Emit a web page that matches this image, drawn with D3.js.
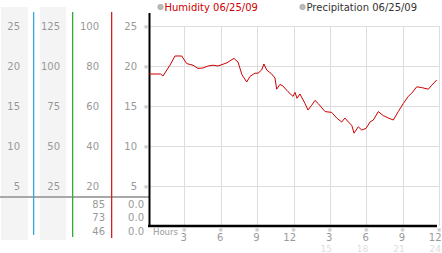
<!DOCTYPE html>
<html><head><meta charset="utf-8">
<script src="https://cdn.jsdelivr.net/npm/d3@7"></script>
<style>
html,body{margin:0;padding:0;background:#fff;}
svg{display:block;font-family:"DejaVu Sans",Verdana,sans-serif;}
</style></head>
<body><svg id="c" width="442" height="253"></svg>
<script>
// ---- data ----
const hours = [0,0.96,1.15,1.73,2.14,2.70,3.11,3.63,4.04,4.45,4.87,5.28,5.69,6.43,7.01,7.34,7.67,8.06,8.33,8.74,8.99,9.29,9.48,9.71,10.12,10.39,10.53,10.80,11.05,11.46,11.88,12.04,12.21,12.45,12.87,13.11,13.42,13.69,13.96,14.52,15.07,15.48,15.89,16.16,16.44,16.72,16.91,17.26,17.54,17.90,18.23,18.50,18.91,19.32,19.74,20.15,20.56,20.97,21.38,21.67,22.08,22.49,23.04,23.32,23.73];
const humidity = [19.0,19.0,18.75,20.1,21.25,21.25,20.3,20.1,19.7,19.75,20.0,20.1,20.0,20.4,20.95,20.5,18.9,18.0,18.7,19.1,19.1,19.5,20.25,19.5,19.0,18.5,17.1,17.7,17.5,16.8,16.2,16.7,15.96,16.5,15.3,14.5,15.1,15.7,15.3,14.3,14.2,13.5,13.0,13.5,13.0,12.6,11.6,12.4,12.0,12.2,13.0,13.25,14.3,13.8,13.5,13.25,14.3,15.3,16.2,16.6,17.4,17.3,17.1,17.6,18.25];
const yTicks = [25,20,15,10,5];
const col1Labels = ["25","20","15","10","5"];
const col2Labels = ["125","100","75","50","25"];
const col3Labels = ["100","80","60","40","20"];
const col4Labels = ["25","20","15","10","5"];
const col3Bottom = ["85","73","46"];
const col4Bottom = ["0.0","0.0","0.0"];
const xTicks = [3,6,9,12,15,18,21,24];
const xLabels = ["3","6","9","12","3","6","9","12"];
const xTicks2 = [15,18,21,24];
const xLabels2 = ["15","18","21","24"];
const legend = [{name:"Humidity 06/25/09", color:"#cc0000"},{name:"Precipitation 06/25/09", color:"#333333"}];

// ---- scales ----
const x = d3.scaleLinear().domain([0,24]).range([149,440]);
const y = d3.scaleLinear().domain([0,25]).range([226,26]);
const svg = d3.select("#c");

// left panel backgrounds
svg.append("rect").attr("x",1).attr("y",7).attr("width",27).attr("height",233).attr("fill","#f4f4f4");
svg.append("rect").attr("x",40).attr("y",7).attr("width",26).attr("height",233).attr("fill","#f4f4f4");

// grey divider
svg.append("line").attr("x1",0).attr("x2",149).attr("y1",197).attr("y2",197).attr("stroke","#a8a8a8").attr("stroke-width",2);

// colored vertical lines
[[33,"#33aadd",235],[72,"#33aa33",237],[111,"#cc2222",238]].forEach(([lx,c,e])=>{
  svg.append("rect").attr("x",lx).attr("y",12).attr("width",1.3).attr("height",e-12).attr("fill",c);
});

const grey="#999";
function colLabels(labels, xe){
  svg.append("g").selectAll("text").data(labels).join("text")
    .attr("x",xe).attr("y",(d,i)=>y(yTicks[i])+3.5)
    .attr("text-anchor","end").attr("font-size",10).attr("fill",grey).text(d=>d);
}
colLabels(col1Labels,20);
colLabels(col2Labels,60);
colLabels(col3Labels,99);
colLabels(col4Labels,137);
// small marks next to plot axis labels
svg.append("g").selectAll("text").data(yTicks).join("text")
  .attr("x",146).attr("y",d=>y(d)+2.5).attr("text-anchor","middle").attr("font-size",6).attr("fill","#aaa").text("※");

// bottom rows
const rowY=[208,221,235];
svg.append("g").selectAll("text").data(col3Bottom).join("text")
  .attr("x",105).attr("y",(d,i)=>rowY[i]).attr("text-anchor","end").attr("font-size",10).attr("fill",grey).text(d=>d);
svg.append("g").selectAll("text").data(col4Bottom).join("text")
  .attr("x",144).attr("y",(d,i)=>rowY[i]).attr("text-anchor","end").attr("font-size",10).attr("fill",grey).text(d=>d);

// grid
svg.append("g").selectAll("line").data(yTicks).join("line")
  .attr("x1",149).attr("x2",440).attr("y1",d=>y(d)+0.5).attr("y2",d=>y(d)+0.5).attr("stroke","#dddddd");
svg.append("g").selectAll("line").data(xTicks).join("line")
  .attr("x1",d=>Math.round(x(d))-0.5).attr("x2",d=>Math.round(x(d))-0.5).attr("y1",y(25)).attr("y2",226).attr("stroke","#dddddd");

// axes
svg.append("line").attr("x1",149.5).attr("x2",149.5).attr("y1",13).attr("y2",227).attr("stroke","#000").attr("stroke-width",2);
svg.append("line").attr("x1",148).attr("x2",437).attr("y1",226).attr("y2",226).attr("stroke","#000").attr("stroke-width",2.5);

// x labels
svg.append("text").attr("x",153).attr("y",235).attr("font-size",8.5).attr("fill",grey).text("Hours");
svg.append("g").selectAll("text").data(xTicks).join("text")
  .attr("x",d=>x(d)-1).attr("y",232).attr("text-anchor","middle").attr("font-size",6).attr("fill","#aaa").text("※");
svg.append("g").selectAll("text").data(xTicks).join("text")
  .attr("x",d=>x(d)+1.5).attr("y",241).attr("text-anchor","end").attr("font-size",10).attr("fill",grey).text((d,i)=>xLabels[i]);
svg.append("g").selectAll("text").data(xTicks2).join("text")
  .attr("x",d=>x(d)+1).attr("y",252).attr("text-anchor","end").attr("font-size",9).attr("fill","#dddddd").text((d,i)=>xLabels2[i]);

// line
const line = d3.line().x((d,i)=>x(hours[i])).y(d=>y(d));
svg.append("path").datum(humidity).attr("d",line).attr("fill","none").attr("stroke","#cc0000").attr("stroke-width",1);

// legend
const lx=[160.5,302.5];
legend.forEach((l,i)=>{
  svg.append("circle").attr("cx",lx[i]).attr("cy",7).attr("r",2.7).attr("fill","#bbb").attr("stroke","#999").attr("stroke-width",0.6);
  svg.append("text").attr("x",lx[i]+4).attr("y",11).attr("font-size",10).attr("fill",l.color).text(l.name);
});
</script></body></html>
